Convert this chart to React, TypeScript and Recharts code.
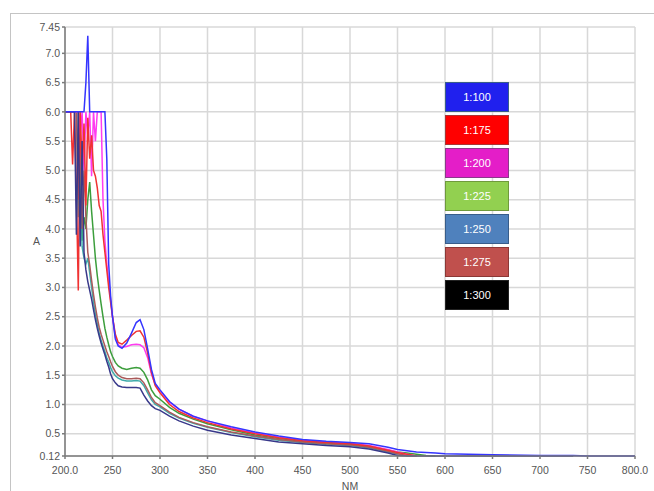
import React from "react";
import { LineChart, Line, XAxis, YAxis, CartesianGrid } from "recharts";

// wavelengths (nm) shared by every series
const wavelengths = [
  200, 206, 208, 210, 212, 214, 216, 218, 220, 222,
  224, 226, 228, 230, 232, 234, 236, 238, 240, 242,
  244, 246, 248, 250, 253, 256, 260, 265, 270, 275,
  279, 283, 287, 291, 295, 300, 310, 320, 335, 350,
  375, 400, 425, 450, 475, 500, 520, 540, 550, 560,
  570, 580, 590, 600, 650, 700, 735, 750, 800,
];

const abs100 = [
  6.0, 6.0, 6.0, 6.0, 6.0, 6.0, 6.0, 6.0, 6.0, 6.5,
  7.3, 6.0, 6.0, 6.0, 6.0, 6.0, 6.0, 6.0, 6.0, 6.0,
  5.2, 3.4, 2.85, 2.5, 2.12, 2.0, 1.96, 2.05, 2.22, 2.4,
  2.45, 2.28, 1.95, 1.6, 1.36, 1.25, 1.05, 0.92, 0.8, 0.72,
  0.62, 0.53, 0.46, 0.4, 0.37, 0.35, 0.33, 0.27, 0.23, 0.21,
  0.19, 0.18, 0.17, 0.16, 0.14, 0.13, 0.13, 0.12, 0.12,
];
const abs175 = [
  6.0, 6.0, 5.1, 6.0, 4.6, 2.95, 6.0, 5.0, 5.8, 4.4,
  5.9, 5.2, 5.6, 5.0, 4.9, 4.7, 4.4, 4.3, 3.9, 3.6,
  3.3, 3.0, 2.75, 2.5, 2.2, 2.06, 2.03, 2.1, 2.18, 2.25,
  2.26, 2.15, 1.88, 1.55, 1.32, 1.2, 1.0, 0.88, 0.77, 0.69,
  0.58, 0.5, 0.43, 0.38, 0.35, 0.33, 0.29, 0.22, 0.18, 0.15,
  0.12, null, null, null, null, null, null, null, null,
];
const abs200 = [
  6.0, 6.0, 6.0, 6.0, 6.0, 6.0, 5.6, 6.0, 5.0, 6.0,
  5.6, 6.0, 4.9, 6.0, 5.5, 6.0, 6.0, 6.0, 4.5, 3.8,
  3.4, 3.1, 2.8, 2.5, 2.15, 2.02, 1.98, 1.99, 2.02, 2.03,
  2.02, 1.97, 1.8, 1.52, 1.34, 1.24, 1.04, 0.92, 0.8, 0.72,
  0.6, 0.51, 0.44, 0.39, 0.36, 0.34, 0.3, 0.23, 0.19, 0.15,
  0.12, null, null, null, null, null, null, null, null,
];
const abs225 = [
  6.0, 6.0, 6.0, 6.0, 6.0, 6.0, 5.0, 3.8, 4.2, 4.0,
  4.5, 4.8, 4.3, 3.9, 3.5, 3.2, 2.95, 2.72, 2.5, 2.3,
  2.15, 2.02, 1.9, 1.82, 1.72, 1.66, 1.62, 1.6, 1.62, 1.63,
  1.62, 1.55, 1.42, 1.25, 1.15, 1.09, 0.95, 0.85, 0.75, 0.67,
  0.57, 0.48, 0.42, 0.37, 0.34, 0.32, 0.28, 0.22, 0.19, 0.17,
  0.15, 0.13, 0.12, null, null, null, null, null, null,
];
const abs250 = [
  6.0, 6.0, 6.0, 6.0, 6.0, 4.2, 5.6, 3.7, 3.5, 3.4,
  3.5, 3.25, 3.0, 2.75, 2.55, 2.38, 2.22, 2.1, 2.0, 1.9,
  1.8, 1.72, 1.63, 1.56, 1.49, 1.45, 1.42, 1.4, 1.4, 1.41,
  1.4, 1.32, 1.2, 1.08, 1.0, 0.96, 0.85, 0.77, 0.68, 0.61,
  0.52, 0.45, 0.39, 0.35, 0.32, 0.3, 0.26, 0.19, 0.16, 0.13,
  0.12, null, null, null, null, null, null, null, null,
];
const abs275 = [
  6.0, 6.0, 6.0, 6.0, 6.0, 4.5, 6.0, 4.0, 5.0, 4.2,
  3.6, 3.38, 3.12, 2.88, 2.67, 2.48, 2.32, 2.2, 2.1, 2.0,
  1.9, 1.82, 1.73, 1.65, 1.56, 1.5, 1.46, 1.44, 1.44, 1.45,
  1.44, 1.37, 1.25, 1.12, 1.03, 0.98, 0.87, 0.78, 0.69, 0.62,
  0.53, 0.46, 0.4, 0.36, 0.33, 0.31, 0.27, 0.2, 0.16, 0.13,
  0.12, null, null, null, null, null, null, null, null,
];
const abs300 = [
  6.0, 6.0, 6.0, 6.0, 3.9, 6.0, 3.7, 5.5, 3.6, 3.3,
  3.1, 2.95, 2.8, 2.62, 2.45, 2.3, 2.17, 2.05, 1.95, 1.85,
  1.74, 1.64, 1.52, 1.44, 1.37, 1.32, 1.3, 1.29, 1.29, 1.29,
  1.28, 1.16, 1.06, 0.98, 0.93, 0.9, 0.8, 0.72, 0.63, 0.56,
  0.48, 0.42, 0.36, 0.33, 0.3, 0.28, 0.24, 0.17, 0.13, 0.12,
  0.12, 0.12, 0.12, 0.12, 0.12, 0.12, 0.12, null, null,
];

const seriesNames = ["1:100", "1:175", "1:200", "1:225", "1:250", "1:275", "1:300"];
const seriesValues = [abs100, abs175, abs200, abs225, abs250, abs275, abs300];
const lineColors = ["#3535ff", "#f03232", "#ff3cf0", "#3c9e3c", "#3eaaaa", "#aa5a5a", "#38388a"];
const legendColors = ["#2020ee", "#ff0000", "#e41ec8", "#92d050", "#4f81bd", "#c0504d", "#000000"];
const legendBorders = ["#385d8a", "#a33", "#8a3a8a", "#6f9a3c", "#385d8a", "#8c3836", "#222"];
// draw order so the tails overlap like the original
const drawOrder = [3, 4, 5, 2, 1, 6, 0];

const xTicks = [200, 250, 300, 350, 400, 450, 500, 550, 600, 650, 700, 750, 800];
const yTicks = [0.12, 0.5, 1.0, 1.5, 2.0, 2.5, 3.0, 3.5, 4.0, 4.5, 5.0, 5.5, 6.0, 6.5, 7.0, 7.45];

const data = wavelengths.map((nm, i) => {
  const row: any = { nm };
  seriesNames.forEach((name, s) => {
    row[name] = seriesValues[s][i];
  });
  return row;
});

const FONT = "'Liberation Sans Narrow', 'Liberation Sans', Arial, sans-serif";

const fmtX = (v: number) => (v === 200 || v === 800 ? v.toFixed(1) : String(v));
const fmtY = (v: number) => (v === 0.12 || v === 7.45 ? String(v) : v.toFixed(1));

// legend drawn as coloured boxes, outside the chart so it does not eat plot space
const BoxLegend = () => (
  <div style={{ position: "absolute", left: 445, top: 82, width: 64 }}>
    {seriesNames.map((name, i) => (
      <div
        key={name}
        style={{
          width: 64,
          height: 30,
          marginBottom: 3,
          background: legendColors[i],
          border: `1px solid ${legendBorders[i]}`,
          boxSizing: "border-box",
          color: "#fff",
          fontFamily: FONT,
          fontSize: 11,
          display: "flex",
          alignItems: "center",
          justifyContent: "center",
        }}
      >
        {name}
      </div>
    ))}
  </div>
);

const tickStyle = { fill: "#555", fontSize: 10.5, fontFamily: FONT };

const App = () => {
  return (
    <div style={{ position: "absolute", left: 0, top: 0, width: 654, height: 491, overflow: "hidden", background: "#fff" }}>
      {/* outer frame */}
      <div
        style={{
          position: "absolute",
          left: 10,
          top: 13,
          width: 700,
          height: 520,
          border: "1px solid #c4c4c4",
        }}
      />
      <div style={{ position: "absolute", left: 0, top: 0 }}>
        <LineChart width={654} height={491} data={data} margin={{ top: 27, right: 19, bottom: 0, left: 25 }}>
          <CartesianGrid stroke="#d8d8d8" strokeWidth={1.5} horizontalValues={yTicks} verticalValues={xTicks} />
          <XAxis
            dataKey="nm"
            type="number"
            domain={[200, 800]}
            ticks={xTicks}
            interval={0}
            tickFormatter={fmtX}
            height={35}
            tickSize={3}
            tickMargin={8}
            stroke="#7a7a7a"
            strokeWidth={1.5}
            tick={tickStyle}
            label={{ value: "NM", position: "insideBottom", offset: 1, ...tickStyle }}
          />
          <YAxis
            type="number"
            domain={[0.12, 7.45]}
            ticks={yTicks}
            interval={0}
            tickFormatter={fmtY}
            width={40}
            tickSize={3}
            tickMargin={2}
            stroke="#7a7a7a"
            strokeWidth={1.5}
            tick={tickStyle}
            label={{ value: "A", position: "insideLeft", offset: 8, angle: 0, ...tickStyle }}
          />
          {drawOrder.map((s) => (
            <Line
              key={seriesNames[s]}
              type="linear"
              dataKey={seriesNames[s]}
              stroke={lineColors[s]}
              strokeWidth={1.5}
              dot={false}
              connectNulls={false}
              isAnimationActive={false}
            />
          ))}
        </LineChart>
      </div>
      <BoxLegend />
    </div>
  );
};

export default App;
